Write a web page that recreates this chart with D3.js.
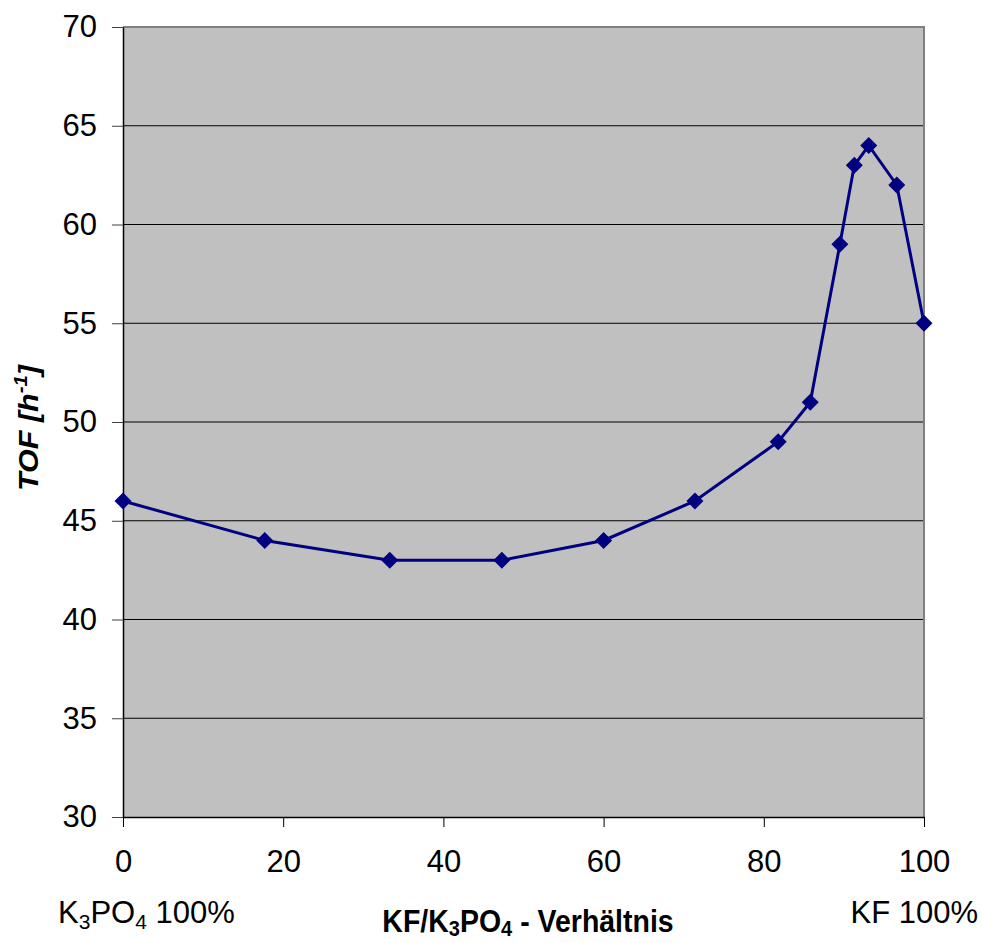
<!DOCTYPE html>
<html><head><meta charset="utf-8">
<script src="https://cdn.jsdelivr.net/npm/d3@7"></script>
<style>body{margin:0;background:#fff}svg{display:block}text{font-family:"Liberation Sans",Arial,sans-serif}</style>
</head><body>
<script>
const ratio = [0, 17.7, 33.3, 47.3, 60.0, 71.4, 81.8, 85.8, 89.5, 91.3, 93.1, 96.6, 100];
const tof = [46, 44, 43, 43, 44, 46, 49, 51, 59, 63, 64, 62, 55];
const xTicks = [0, 20, 40, 60, 80, 100];
const yTicks = [30, 35, 40, 45, 50, 55, 60, 65, 70];

const W = 982, H = 943;
const L = 123, R = 924, T = 27, B = 817;
const svg = d3.select("body").append("svg").attr("width", W).attr("height", H);
const x = d3.scaleLinear().domain([0, 100]).range([L, R]);
const y = d3.scaleLinear().domain([30, 70]).range([B, T]);

svg.append("rect").attr("x", L).attr("y", T).attr("width", R - L).attr("height", B - T).attr("fill", "#C0C0C0");
svg.append("g").selectAll("line").data(yTicks.filter(d => d > 30 && d < 70)).join("line")
  .attr("x1", L).attr("x2", R).attr("y1", d => y(d)).attr("y2", d => y(d))
  .attr("stroke", "#000").attr("stroke-width", 1);
svg.append("line").attr("x1", L).attr("x2", R + 1).attr("y1", T).attr("y2", T).attr("stroke", "#808080").attr("stroke-width", 2);
svg.append("line").attr("x1", R).attr("x2", R).attr("y1", T).attr("y2", B).attr("stroke", "#808080").attr("stroke-width", 2);

const yAxis = svg.append("g").attr("transform", `translate(${L},0)`)
  .call(d3.axisLeft(y).tickValues(yTicks).tickSize(11).tickPadding(15).tickSizeOuter(0));
const xAxis = svg.append("g").attr("transform", `translate(0,${B})`)
  .call(d3.axisBottom(x).tickValues(xTicks).tickSize(10).tickPadding(23).tickSizeOuter(0));
[yAxis, xAxis].forEach(a => {
  a.select(".domain").attr("stroke", "#000").attr("stroke-width", 1.5);
  a.selectAll(".tick line").attr("stroke", "#000").attr("stroke-width", 1);
  a.selectAll("text").attr("font-size", 31).attr("fill", "#000").attr("font-family", "Liberation Sans, Arial, sans-serif");
});
yAxis.selectAll(".tick line").attr("stroke", "#404040");

const pts = ratio.map((r, i) => [r, tof[i]]);
svg.append("path").datum(pts)
  .attr("d", d3.line().x(d => x(d[0])).y(d => y(d[1])))
  .attr("fill", "none").attr("stroke", "#000080").attr("stroke-width", 3);
svg.append("g").selectAll("path").data(pts).join("path")
  .attr("transform", d => `translate(${x(d[0])},${y(d[1])})`)
  .attr("d", "M0,-8.5L8.5,0L0,8.5L-8.5,0Z").attr("fill", "#000080");

const lab = svg.append("text").attr("x", 58).attr("y", 923).attr("font-size", 31);
lab.append("tspan").text("K");
lab.append("tspan").text("3").attr("font-size", 21).attr("dy", 6);
lab.append("tspan").text("PO").attr("dy", -6);
lab.append("tspan").text("4").attr("font-size", 21).attr("dy", 6);
lab.append("tspan").text(" 100%").attr("dy", -6);

svg.append("text").attr("x", 978).attr("y", 923).attr("text-anchor", "end").attr("font-size", 31).text("KF 100%");

const title = svg.append("text").attr("transform", "translate(528,932) scale(1,1.1)").attr("text-anchor", "middle")
  .attr("font-size", 28.5).attr("font-weight", "bold");
title.append("tspan").text("KF/K");
title.append("tspan").text("3").attr("font-size", 20).attr("dy", 4);
title.append("tspan").text("PO").attr("dy", -4);
title.append("tspan").text("4").attr("font-size", 20).attr("dy", 4);
title.append("tspan").text(" - Verhältnis").attr("dy", -4);

const yt = svg.append("text").attr("transform", "translate(38,428) rotate(-90) scale(1.13,1)").attr("text-anchor", "middle")
  .attr("font-size", 27).attr("font-weight", "bold").attr("font-style", "italic");
yt.append("tspan").text("TOF [h");
yt.append("tspan").text("-1").attr("font-size", 18).attr("dy", -11);
yt.append("tspan").text("]").attr("dy", 11);
</script>
</body></html>
